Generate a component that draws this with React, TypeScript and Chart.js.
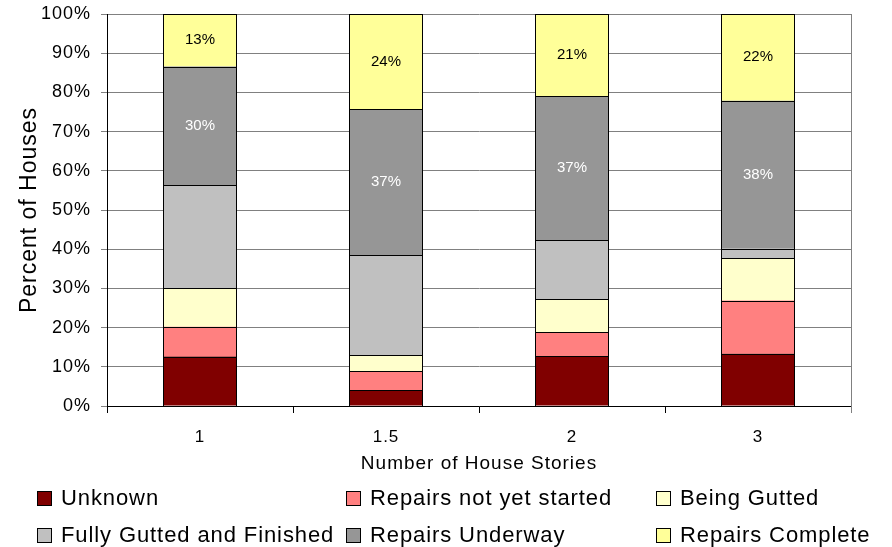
import React, { useEffect, useRef } from 'react';
import { Chart, registerables } from 'chart.js';

Chart.register(...registerables);

// ---- data ----
const categories = ['1', '1.5', '2', '3'];
const seriesNames = [
  'Unknown',
  'Repairs not yet started',
  'Being Gutted',
  'Fully Gutted and Finished',
  'Repairs Underway',
  'Repairs Complete',
];
const unknown = [12.6, 4.0, 12.7, 13.3];
const notStarted = [7.6, 4.9, 6.2, 13.6];
const beingGutted = [9.9, 4.1, 8.3, 10.8];
const fullyGutted = [26.2, 25.5, 15.1, 2.4];
const underway = [30.3, 37.2, 36.8, 37.8];
const complete = [13.4, 24.3, 20.9, 22.1];
const yTickLabels = ['0%', '10%', '20%', '30%', '40%', '50%', '60%', '70%', '80%', '90%', '100%'];
const xTitle = 'Number of House Stories';
const yTitle = 'Percent of Houses';

const seriesData = [unknown, notStarted, beingGutted, fullyGutted, underway, complete];
const seriesColors = ['#800000', '#FF8080', '#FFFFCC', '#C0C0C0', '#969696', '#FFFF99'];
// series index -> label text color (only these are labelled)
const labelledSeries: [number, string][] = [
  [4, '#FFFFFF'],
  [5, '#000000'],
];

const FONT = '"Liberation Sans", Arial, Helvetica, sans-serif';

const legendCols = [37, 346, 656];
const legendRows = [498, 535];

const segLabels = {
  id: 'segLabels',
  beforeDraw(chart: any) {
    chart.ctx.letterSpacing = '1px';
  },
  afterDatasetsDraw(chart: any) {
    const ctx = chart.ctx;
    // crisp black outlines around every bar segment
    ctx.save();
    ctx.letterSpacing = '0px';
    ctx.strokeStyle = '#000000';
    ctx.lineWidth = 1;
    chart.data.datasets.forEach((_d: any, di: number) => {
      const meta = chart.getDatasetMeta(di);
      meta.data.forEach((bar: any) => {
        const p = bar.getProps(['x', 'y', 'base', 'width'], true);
        const x0 = Math.round(p.x - p.width / 2) + 0.5;
        const x1 = Math.round(p.x + p.width / 2) - 0.5;
        const y0 = Math.round(Math.min(p.y, p.base)) + 0.5;
        const y1 = Math.round(Math.max(p.y, p.base)) + 0.5;
        ctx.strokeRect(x0, y0, x1 - x0, y1 - y0);
      });
    });
    ctx.restore();

    labelledSeries.forEach(([di, color]) => {
      const meta = chart.getDatasetMeta(di);
      meta.data.forEach((bar: any, i: number) => {
        const v = chart.data.datasets[di].data[i] as number;
        const p = bar.getProps(['x', 'y', 'base'], true);
        ctx.save();
        ctx.letterSpacing = '0px';
        ctx.font = `15px ${FONT}`;
        ctx.fillStyle = color;
        ctx.textAlign = 'center';
        ctx.textBaseline = 'middle';
        ctx.fillText(Math.round(v) + '%', p.x, (p.y + p.base) / 2);
        ctx.restore();
      });
    });
  },
  afterDraw(chart: any) {
    const ctx = chart.ctx;
    const a = chart.chartArea;
    ctx.save();
    ctx.letterSpacing = '0px';
    ctx.strokeStyle = '#808080';
    ctx.lineWidth = 1;
    const x = Math.round(a.right) + 0.5;
    ctx.beginPath();
    ctx.moveTo(x, a.top);
    ctx.lineTo(x, a.bottom + 7);
    ctx.stroke();
    ctx.restore();
  },
};

export default function App() {
  const ref = useRef<HTMLCanvasElement>(null);

  useEffect(() => {
    if (!ref.current) return;
    const chart = new Chart(ref.current, {
      type: 'bar',
      data: {
        labels: categories,
        datasets: seriesNames.map((name, i) => ({
          label: name,
          data: seriesData[i],
          backgroundColor: seriesColors[i],
          borderWidth: 0,
          inflateAmount: 0,
          barThickness: 74,
        })),
      },
      options: {
        animation: false,
        responsive: false,
        maintainAspectRatio: false,
        devicePixelRatio: 1,
        layout: { padding: { left: 0, right: 41, top: 14, bottom: 72 } },
        plugins: {
          legend: { display: false },
          tooltip: { enabled: false },
          title: { display: false },
        },
        scales: {
          x: {
            stacked: true,
            grid: {
              offset: true,
              drawOnChartArea: false,
              drawTicks: true,
              tickLength: 7,
              color: '#000000',
            },
            border: { color: '#000000', width: 1 },
            ticks: { font: { family: FONT, size: 17 }, color: '#000000', padding: 14 },
            title: {
              display: true,
              text: xTitle,
              font: { family: FONT, size: 19 },
              color: '#000000',
              padding: { top: 0, bottom: 0 },
            },
            afterFit: (s: any) => {
              s.height = 69;
              s.paddingLeft = 0;
              s.paddingRight = 0;
            },
          },
          y: {
            stacked: true,
            min: 0,
            max: 100,
            ticks: {
              stepSize: 10,
              callback: (_v: any, i: number) => yTickLabels[i],
              font: { family: FONT, size: 18 },
              color: '#000000',
              padding: 10,
            },
            grid: { color: '#808080', tickLength: 6, lineWidth: 1 },
            border: { color: '#000000', width: 1 },
            title: {
              display: true,
              text: yTitle,
              font: { family: FONT, size: 23 },
              color: '#000000',
              padding: { top: 16, bottom: 0 },
            },
            afterFit: (s: any) => {
              s.width = 107;
              s.paddingTop = 0;
              s.paddingBottom = 0;
            },
          },
        },
      } as any,
      plugins: [segLabels],
    });
    return () => chart.destroy();
  }, []);

  return (
    <div style={{ position: 'absolute', left: 0, top: 0, width: 892, height: 547, background: '#fff' }}>
      <canvas ref={ref} width={892} height={547} style={{ display: 'block', width: 892, height: 547 }} />
      {seriesNames.map((name, i) => {
        const col = legendCols[i % 3];
        const row = legendRows[Math.floor(i / 3)];
        return (
          <div key={name}>
            <div
              style={{
                position: 'absolute',
                left: col,
                top: row - 7,
                width: 15,
                height: 15,
                boxSizing: 'border-box',
                border: '1px solid #000',
                background: seriesColors[i],
              }}
            />
            <div
              style={{
                position: 'absolute',
                left: col + 24,
                top: row - 14,
                height: 28,
                lineHeight: '28px',
                fontFamily: FONT,
                fontSize: 22,
                letterSpacing: '0.9px',
                color: '#000',
                whiteSpace: 'nowrap',
              }}
            >
              {name}
            </div>
          </div>
        );
      })}
    </div>
  );
}
